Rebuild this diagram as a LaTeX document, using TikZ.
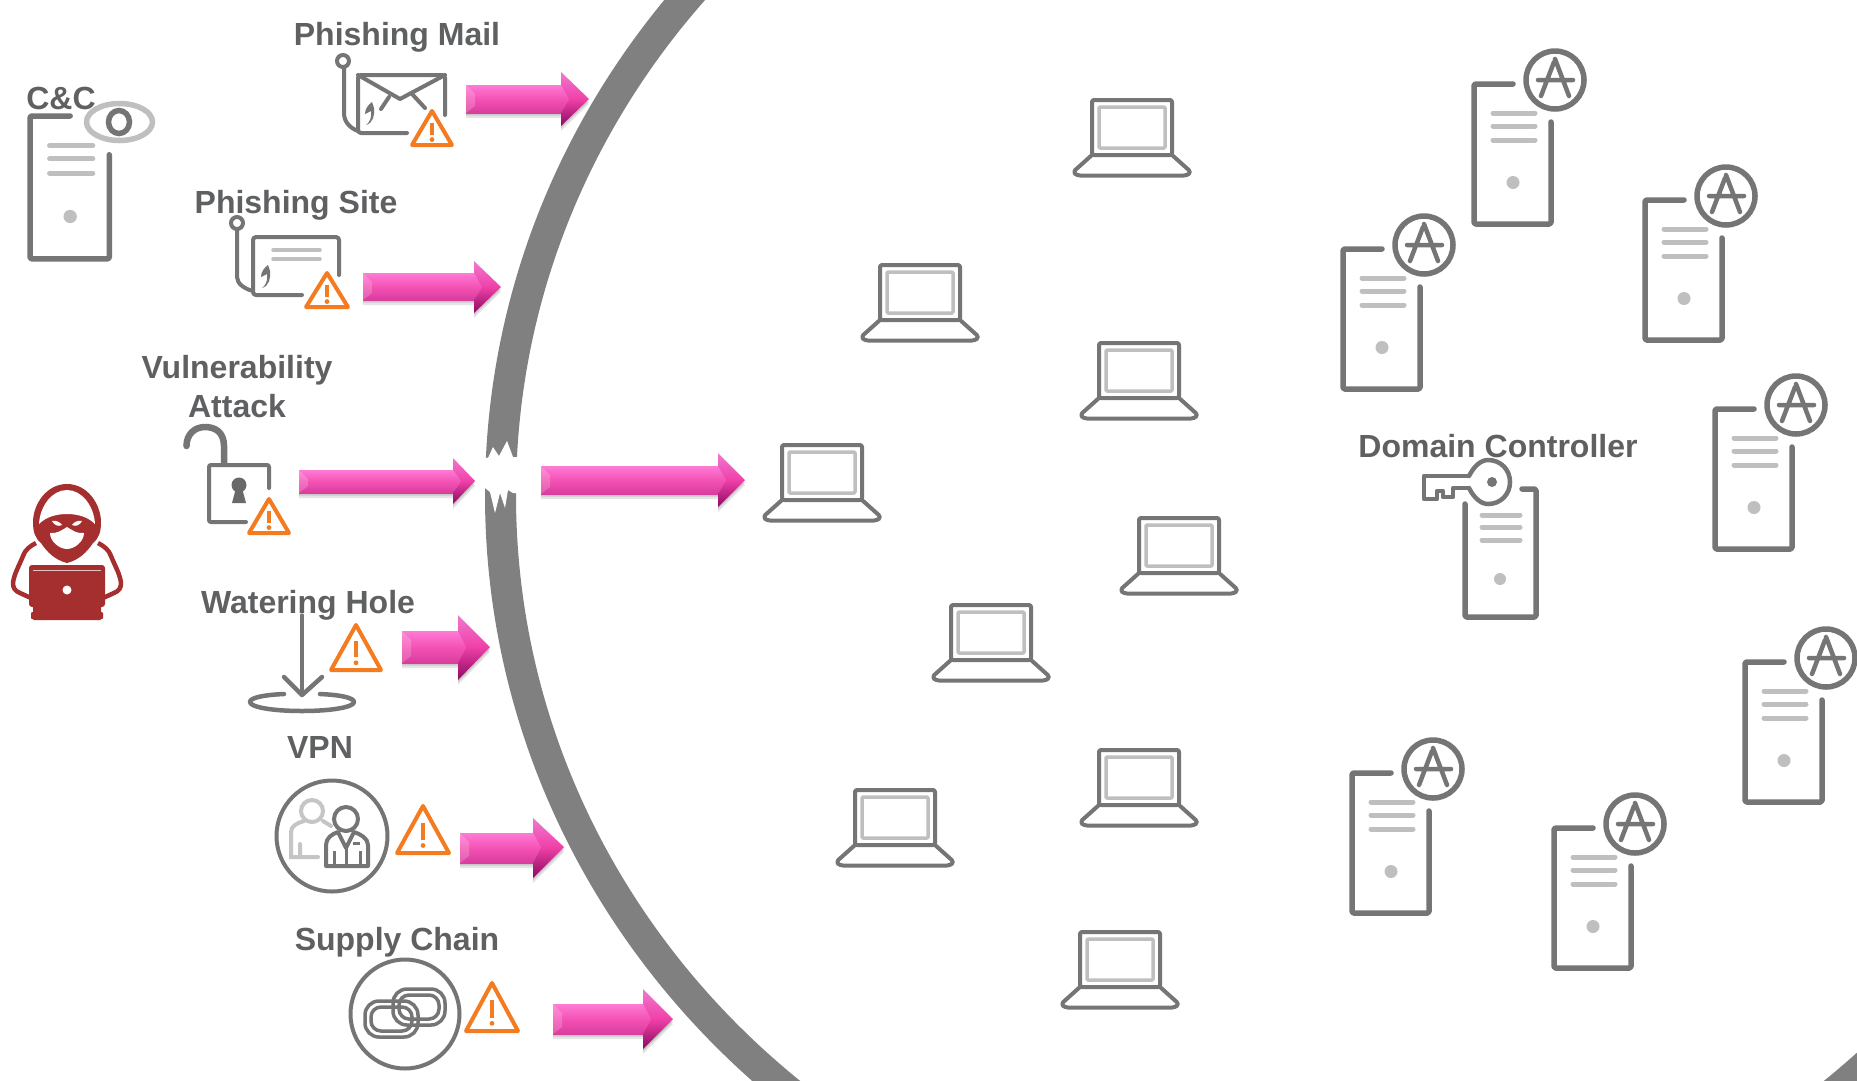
\documentclass[tikz,border=0pt]{standalone}
\usepackage{fontspec}
\setmainfont{Liberation Sans}
\definecolor{ringc}{HTML}{808080}
\definecolor{icond}{HTML}{757575}
\definecolor{iconl}{HTML}{BFBFBF}
\definecolor{labelc}{HTML}{5F6062}
\definecolor{warnc}{HTML}{F47B20}
\definecolor{hred}{HTML}{A52F2F}
\definecolor{pka}{HTML}{A82878}
\definecolor{pkb}{HTML}{C83090}
\definecolor{pkc}{HTML}{F452B4}
\definecolor{pkd}{HTML}{FF80DA}
\definecolor{pke}{HTML}{FF9CE6}
\definecolor{pkf}{HTML}{E850B8}
\definecolor{pkg}{HTML}{F078D0}
\definecolor{pkh}{HTML}{F040A8}
\definecolor{pki}{HTML}{8A0A60}
\pgfdeclareverticalshading{pinkbar}{100bp}{color(0bp)=(pka); color(10bp)=(pkb); color(50bp)=(pkc); color(78bp)=(pkd); color(86bp)=(pke); color(100bp)=(pkf)}
\tikzset{
  lbl/.style={font=\bfseries\fontsize{32}{39}\selectfont, text=labelc, inner sep=0pt, anchor=base},
  dk/.style={draw=icond, line width=4.5pt, line cap=round, line join=round},
  lt/.style={draw=iconl, line width=5pt, line cap=round, line join=round},
  thin dk/.style={draw=icond, line width=4pt, line cap=round, line join=round},
  wn/.style={draw=warnc, line width=4pt, line join=round},
}
\newcommand{\srvicon}[2]{\begin{scope}[shift={(#1,#2)}]
  \draw[dk,line width=5.5pt,rounded corners=1.5pt] (39,0) -- (0,0) -- (0,140) -- (77,140) -- (77,38);
  \foreach \yy in {29,42,56} \draw[lt] (19,\yy) -- (61,\yy);
  \fill[iconl] (39,98.5) circle (6.5);
\end{scope}}
\newcommand{\badgeicon}[2]{\begin{scope}[shift={(#1,#2)}]
  \draw[dk,line width=5.5pt] (0,0) circle (29);
  \draw[dk] (14,16) -- (0,-21) (-14,16) -- (-1,-18) (-17,0) -- (18,0);
\end{scope}}
\newcommand{\adminsrv}[2]{\srvicon{#1}{#2}\begin{scope}[shift={(#1,#2)}]\badgeicon{81}{-4}\end{scope}}
\newcommand{\laptopicon}[2]{\begin{scope}[shift={(#1,#2)}]
  \draw[lt,line width=3.5pt,rounded corners=1pt] (7,7) rectangle (73,48);
  \draw[thin dk,rounded corners=2pt] (0,55) -- (0,0) -- (80,0) -- (80,55) -- cycle;
  \draw[thin dk,rounded corners=3pt] (0,55) -- (-19,72) -- (-15,75.5) -- (95,75.5) -- (99,72) -- (80,55);
\end{scope}}
\newcommand{\warnicon}[4]{% cx, top, base, half width
  \draw[wn] (#1,#2) -- (#1+#4,#3) -- (#1-#4,#3) -- cycle;
  \draw[warnc,line width=3.5pt] (#1,{#2+(#3-#2)*0.36}) -- (#1,{#2+(#3-#2)*0.72});
  \fill[warnc] (#1,{#2+(#3-#2)*0.84}) circle (2.4);}
\newcommand{\barbicon}[2]{\begin{scope}[shift={(#1,#2)}]
  \fill[icond] (0,0) .. controls (-4,3) and (-7,7) .. (-7,12) -- (-1,9) .. controls (0,15) and (-2,20) .. (-6,23) .. controls (1,21) and (3,13) .. (2,6) -- cycle;
\end{scope}}
\newcommand{\pinkarrow}[8]{% tail, base, tip, cy, shaft top, shaft bottom, head top, head bottom
  \fill[black,opacity=0.10] (#1,#5+5) -- (#2,#5+5) -- (#2,#7+5) -- (#3,#4+5) -- (#2,#8+5) -- (#2,#6+5) -- (#1,#6+5) -- cycle;
  \fill[black,opacity=0.12] (#1,#5+2.5) -- (#2,#5+2.5) -- (#2,#7+2.5) -- (#3,#4+2.5) -- (#2,#8+2.5) -- (#2,#6+2.5) -- (#1,#6+2.5) -- cycle;
  \shade[shading=pinkbar] (#1,#5) -- (#2+1,#5) -- (#2+1,#6) -- (#1,#6) -- cycle;
  \fill[white,opacity=0.18] (#1,#5) -- (#1+9,#5+9) -- (#1+9,#6-7) -- (#1,#6) -- cycle;
  \shade[top color=pkg,bottom color=pkh] (#2,#7) -- (#3,#4) -- (#2,#4+0.5) -- cycle;
  \shade[shading=pinkbar] (#2,#5) -- (#2+8,#4) -- (#2,#6) -- cycle;
  \shade[top color=pkh,bottom color=pki] (#2,#8) -- (#3,#4) -- (#2+8,#4) -- (#2,#6) -- cycle;
}
\begin{document}
\begin{tikzpicture}[x=1pt,y=-1pt]
\useasboundingbox (0,0) rectangle (1857,1080);
\fill[white] (0,0) rectangle (1857,1080);

% perimeter ring
\begin{scope}
\clip (0,0) rectangle (1857,1080);
\draw[ringc,line width=31pt] (1312,495) ellipse [x radius=811.5, y radius=780.5];
\end{scope}
% breach in the ring
\fill[white] (478,456) -- (488,458) -- (493,447) -- (499,456) -- (507,441) -- (513,457) -- (527,457)
  -- (527,493) -- (513,493) -- (508,490) -- (505,508) -- (500,493) -- (495,513) -- (490,492) -- (485,488) -- (478,488) -- cycle;

% C&C server
\begin{scope}[shift={(30,116)},xscale=1.03,yscale=1.02]
\srvicon{0}{0}
\end{scope}
\node[lbl] (cc) at (61,109) {C\&C};
\draw[draw=iconl,line width=5.5pt,fill=white] (119.5,122) ellipse [x radius=33, y radius=18.5];
\draw[icond,line width=5.5pt] (119,122) ellipse [x radius=10.5, y radius=11.5];

% phishing mail
\node[lbl] (pmail) at (397,45.5) {Phishing Mail};
\draw[thin dk] (343,61) circle (6);
\draw[thin dk] (344,67) -- (344,113) .. controls (344,122) and (350,128) .. (358,131);
\draw[thin dk,rounded corners=3pt] (407,133) -- (358,133) -- (358,75) -- (445,75) -- (445,115);
\draw[thin dk] (358,75) -- (400,99) -- (445,75);
\draw[thin dk] (389,97) -- (381,109) (413,95) -- (425,108);
\barbicon{372}{102}
\warnicon{432}{111}{145}{20}

% phishing site
\node[lbl] (psite) at (296,213.5) {Phishing Site};
\draw[thin dk] (237,223) circle (6);
\draw[thin dk] (237,229) -- (237,277) .. controls (237,284) and (245,289) .. (253,291);
\draw[thin dk,rounded corners=3pt] (302,295) -- (253,295) -- (253,237) -- (339,237) -- (339,275);
\draw[lt,line width=3.5pt] (273,250) -- (320,250) (273,259) -- (320,259);
\barbicon{268}{265}
\warnicon{327}{273}{307}{21}

% vulnerability attack
\node[lbl,align=center,anchor=center] (vuln) at (237,386.5) {Vulnerability\\Attack};
\draw[dk,line width=6.5pt,line cap=butt] (224,465) -- (224,446) .. controls (224,432) and (215,427) .. (205,427) .. controls (195,427) and (186.5,434) .. (186.5,446);
\fill[icond] (186.5,446) circle (3.25);
\draw[draw=icond,line width=4pt,line cap=round,rounded corners=2pt] (269,488) -- (269,465) -- (209,465) -- (209,522) -- (246,522);
\fill[icond!90!black] (239,485) circle (7.5);
\fill[icond!90!black] (236,488) -- (242,488) -- (246,503) -- (232,503) -- cycle;
\warnicon{269}{499}{533}{20}

% watering hole
\node[lbl] (water) at (308,613) {Watering Hole};
\draw[dk,line width=3.5pt] (302,615) -- (302,694);
\draw[dk] (284,677) -- (302,695) -- (322,677);
\draw[dk] (284,694) .. controls (262,695) and (250,698) .. (250,702) .. controls (250,707) and (272,711) .. (302,711) .. controls (332,711) and (354,707) .. (354,702) .. controls (354,698) and (342,695) .. (320,694);
\warnicon{356}{625}{670}{25}

% VPN
\node[lbl] (vpn) at (320,758.5) {VPN};
\draw[dk,line width=4pt] (332,836) circle (55.5);
\draw[draw=iconl!90!white,line width=4pt,line cap=round] (312,811) circle (11)
  (318,857) -- (291,857) -- (291,832) .. controls (291,826) and (297,823) .. (304,821)
  (323,821) -- (331,826) (300,844) -- (300,857);
\draw[thin dk] (346,819) circle (12);
\draw[thin dk] (326,866) -- (326,845) .. controls (326,838) and (332,834) .. (338,832) -- (346,848) -- (354,832) .. controls (360,834) and (368,838) .. (368,845) -- (368,866) -- cycle;
\draw[draw=icond,line width=3pt] (334,851) -- (334,866) (360,851) -- (360,866) (346,848) -- (346,866) (353,843) -- (360,843);
\warnicon{423}{806}{853}{26}

% supply chain
\node[lbl] (supply) at (397,950.5) {Supply Chain};
\draw[dk,line width=4pt] (405,1014) circle (54.5);
\draw[draw=icond,line width=3.5pt,rounded corners=14pt] (393,989) rectangle (445,1025);
\draw[draw=icond,line width=3.5pt,rounded corners=10pt] (399,995) rectangle (439,1019);
\draw[draw=icond,line width=3.5pt,rounded corners=14pt] (365,1001) rectangle (418,1037);
\draw[draw=icond,line width=3.5pt,rounded corners=10pt] (371,1007) rectangle (412,1031);
\warnicon{492}{983}{1031}{26}

% attacker
\draw[hred,line width=4.5pt,line join=round] (36,543) .. controls (30,546) and (25,550) .. (23,556) .. controls (19,566) and (14,574) .. (13,583) .. controls (13,588) and (15,591) .. (20,593) -- (31,598);
\draw[hred,line width=4.5pt,line join=round] (98,543) .. controls (104,546) and (109,550) .. (111,556) .. controls (115,566) and (120,574) .. (121,583) .. controls (121,588) and (119,591) .. (114,593) -- (103,598);
\fill[hred] (67,484) .. controls (46,484) and (33,505) .. (33,522) .. controls (33,532) and (35,538) .. (41,543) .. controls (47,552) and (55,560) .. (67,563) .. controls (79,560) and (87,552) .. (93,543) .. controls (99,538) and (101,532) .. (101,522) .. controls (101,505) and (88,484) .. (67,484) -- cycle;
\fill[white] (67,490) .. controls (52,490) and (40,506) .. (39,524) .. controls (46,517) and (56,514) .. (67,514) .. controls (78,514) and (88,517) .. (95,524) .. controls (94,506) and (82,490) .. (67,490) -- cycle;
\fill[white] (50,533) .. controls (57,534) and (62,530) .. (67,527) .. controls (72,530) and (77,534) .. (84,533) .. controls (84,541) and (75,549) .. (67,549) .. controls (59,549) and (50,541) .. (50,533) -- cycle;
\fill[white] (52,521) .. controls (56,520) and (60,522) .. (62,525) .. controls (58,527) and (54,525) .. (52,521) -- cycle;
\fill[white] (82,521) .. controls (78,520) and (74,522) .. (72,525) .. controls (76,527) and (80,525) .. (82,521) -- cycle;
\fill[hred,rounded corners=3pt] (29,565) rectangle (105,607);
\fill[hred,rounded corners=1pt] (33,600) rectangle (101,620);
\fill[hred,rounded corners=1pt] (31,612) rectangle (103,619);
\draw[white!70!hred,line width=1pt] (33,570) -- (101,570);
\fill[white] (67,590) circle (4.5);

% arrows
\pinkarrow{466}{561}{589}{99}{85}{113}{72}{126}
\pinkarrow{363}{474}{501}{287}{273}{300}{261}{313}
\pinkarrow{299}{453}{475}{481}{470}{493}{458}{504}
\pinkarrow{541}{718}{745}{480}{466}{494}{453}{507}
\pinkarrow{402}{458}{490}{647}{631}{663}{615}{680}
\pinkarrow{460}{533}{564}{847}{833}{863}{818}{878}
\pinkarrow{553}{643}{673}{1019}{1004}{1034}{989}{1049}

% laptops
\laptopicon{1092}{100}
\laptopicon{880}{265}
\laptopicon{1099}{343}
\laptopicon{782}{445}
\laptopicon{1139}{518}
\laptopicon{951}{605}
\laptopicon{1099}{750}
\laptopicon{855}{790}
\laptopicon{1080}{932}

% admin servers
\adminsrv{1474}{84}
\adminsrv{1343}{249}
\adminsrv{1645}{200}
\adminsrv{1715}{409}
\adminsrv{1745}{662}
\adminsrv{1352}{773}
\adminsrv{1554}{828}

% domain controller
\node[lbl] (dc) at (1498,457) {Domain Controller};
\draw[dk,line width=5.5pt,rounded corners=1.5pt] (1522,489) -- (1536,489) -- (1536,617) -- (1465,617) -- (1465,504);
\foreach \yy in {515,527,540} \draw[lt] (1482,\yy) -- (1520,\yy);
\fill[iconl] (1500,579) circle (6);
\draw[draw=icond,line width=4.5pt,line join=round,fill=white] (1468,476) -- (1424,476) -- (1424,499) -- (1437,499) -- (1437,491) -- (1443,491) -- (1443,497) -- (1453,497) -- (1453,488) -- (1469,488);
\draw[dk] (1469,476) .. controls (1474,466) and (1481,460) .. (1488,460) .. controls (1501,460) and (1510,470) .. (1510,482) .. controls (1510,494) and (1501,504) .. (1488,504) .. controls (1481,504) and (1474,498) .. (1469,488);
\fill[icond] (1492,482) circle (5);
\end{tikzpicture}
\end{document}
